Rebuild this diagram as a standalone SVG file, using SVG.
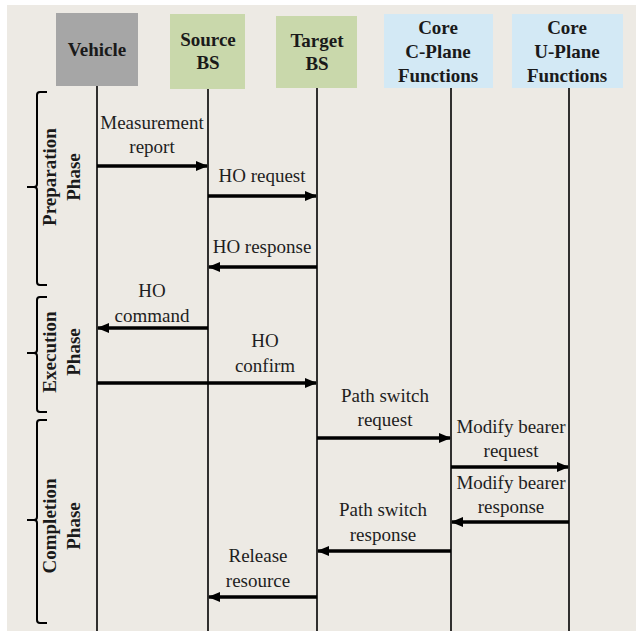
<svg xmlns="http://www.w3.org/2000/svg" width="636" height="631" viewBox="0 0 636 631">
<defs>
<marker id="ah" markerUnits="userSpaceOnUse" markerWidth="12" markerHeight="10" refX="11" refY="5" orient="auto">
<path d="M0,0 L12,5 L0,10 z" fill="#000"/>
</marker>
<style>
.hdr{font-family:"Liberation Serif","Times New Roman",serif;font-weight:bold;font-size:19px;fill:#1a1a1a;text-anchor:middle}
.lbl{font-family:"Liberation Serif","Times New Roman",serif;font-size:19px;fill:#1e1e1e;text-anchor:middle}
.ph{font-family:"Liberation Serif","Times New Roman",serif;font-weight:bold;font-size:19px;fill:#1a1a1a;text-anchor:middle}
.life{stroke:#000;stroke-width:1.6;fill:none}
.msg{stroke:#000;stroke-width:3.4;fill:none;marker-end:url(#ah)}
.brace{stroke:#000;stroke-width:2;fill:none}
</style>
</defs>
<rect x="0" y="0" width="636" height="631" fill="#ffffff"/>
<rect x="7" y="5" width="629" height="626" fill="#EDEAE4"/>

<g id="vehicle">
<rect x="56" y="13" width="82" height="73" fill="#A6A6A6"/>
<text class="hdr" x="97" y="56">Vehicle</text>
<line class="life" x1="97" y1="86" x2="97" y2="631"/>
</g>
<g id="source-bs">
<rect x="170" y="14" width="75" height="75" fill="#C9D8AB"/>
<text class="hdr" x="208" y="46">Source</text>
<text class="hdr" x="208" y="69">BS</text>
<line class="life" x1="208" y1="89" x2="208" y2="631"/>
</g>
<g id="target-bs">
<rect x="276" y="16" width="81" height="72" fill="#C9D8AB"/>
<text class="hdr" x="317" y="47">Target</text>
<text class="hdr" x="317" y="70">BS</text>
<line class="life" x1="317" y1="88" x2="317" y2="631"/>
</g>
<g id="core-c-plane">
<rect x="384" y="14" width="109" height="74" fill="#D3E9F5"/>
<text class="hdr" x="438" y="34">Core</text>
<text class="hdr" x="438" y="58">C-Plane</text>
<text class="hdr" x="438" y="82">Functions</text>
<line class="life" x1="451" y1="88" x2="451" y2="631"/>
</g>
<g id="core-u-plane">
<rect x="512" y="14" width="111" height="74" fill="#D3E9F5"/>
<text class="hdr" x="567" y="34">Core</text>
<text class="hdr" x="567" y="58">U-Plane</text>
<text class="hdr" x="567" y="82">Functions</text>
<line class="life" x1="569" y1="88" x2="569" y2="631"/>
</g>

<g id="phases">
<path class="brace" d="M47,92 L40,92 Q37,92 37,95 L37,184 Q37,187 34,187 L27,187 M34,187 Q37,187 37,190 L37,282 Q37,285 40,285 L47,285"/>
<path class="brace" d="M47,297 L40,297 Q37,297 37,300 L37,350 Q37,353 34,353 L27,353 M34,353 Q37,353 37,356 L37,409 Q37,412 40,412 L47,412"/>
<path class="brace" d="M47,420 L40,420 Q37,420 37,423 L37,517 Q37,520 34,520 L27,520 M34,520 Q37,520 37,523 L37,620 Q37,623 40,623 L47,623"/>
<text class="ph" transform="translate(56,177) rotate(-90)">Preparation</text>
<text class="ph" transform="translate(80,177) rotate(-90)">Phase</text>
<text class="ph" transform="translate(56,352) rotate(-90)">Execution</text>
<text class="ph" transform="translate(80,352) rotate(-90)">Phase</text>
<text class="ph" transform="translate(56,526) rotate(-90)">Completion</text>
<text class="ph" transform="translate(80,526) rotate(-90)">Phase</text>
</g>

<g id="connectors">
<line class="msg" x1="97" y1="166" x2="207" y2="166"/>
<line class="msg" x1="208" y1="196" x2="316" y2="196"/>
<line class="msg" x1="317" y1="267" x2="209" y2="267"/>
<line class="msg" x1="208" y1="328" x2="98" y2="328"/>
<line class="msg" x1="97" y1="383" x2="316" y2="383"/>
<line class="msg" x1="317" y1="438" x2="450" y2="438"/>
<line class="msg" x1="451" y1="467" x2="568" y2="467"/>
<line class="msg" x1="569" y1="522" x2="452" y2="522"/>
<line class="msg" x1="451" y1="551" x2="318" y2="551"/>
<line class="msg" x1="317" y1="597" x2="209" y2="597"/>
</g>

<g id="labels">
<text class="lbl" x="152" y="129">Measurement</text>
<text class="lbl" x="152" y="153">report</text>
<text class="lbl" x="262" y="182">HO request</text>
<text class="lbl" x="262" y="253">HO response</text>
<text class="lbl" x="152" y="297">HO</text>
<text class="lbl" x="152" y="322">command</text>
<text class="lbl" x="265" y="347">HO</text>
<text class="lbl" x="265" y="372">confirm</text>
<text class="lbl" x="385" y="402">Path switch</text>
<text class="lbl" x="385" y="426">request</text>
<text class="lbl" x="511" y="433">Modify bearer</text>
<text class="lbl" x="511" y="457">request</text>
<text class="lbl" x="511" y="489">Modify bearer</text>
<text class="lbl" x="511" y="513">response</text>
<text class="lbl" x="383" y="516">Path switch</text>
<text class="lbl" x="383" y="541">response</text>
<text class="lbl" x="258" y="562">Release</text>
<text class="lbl" x="258" y="587">resource</text>
</g>
</svg>
